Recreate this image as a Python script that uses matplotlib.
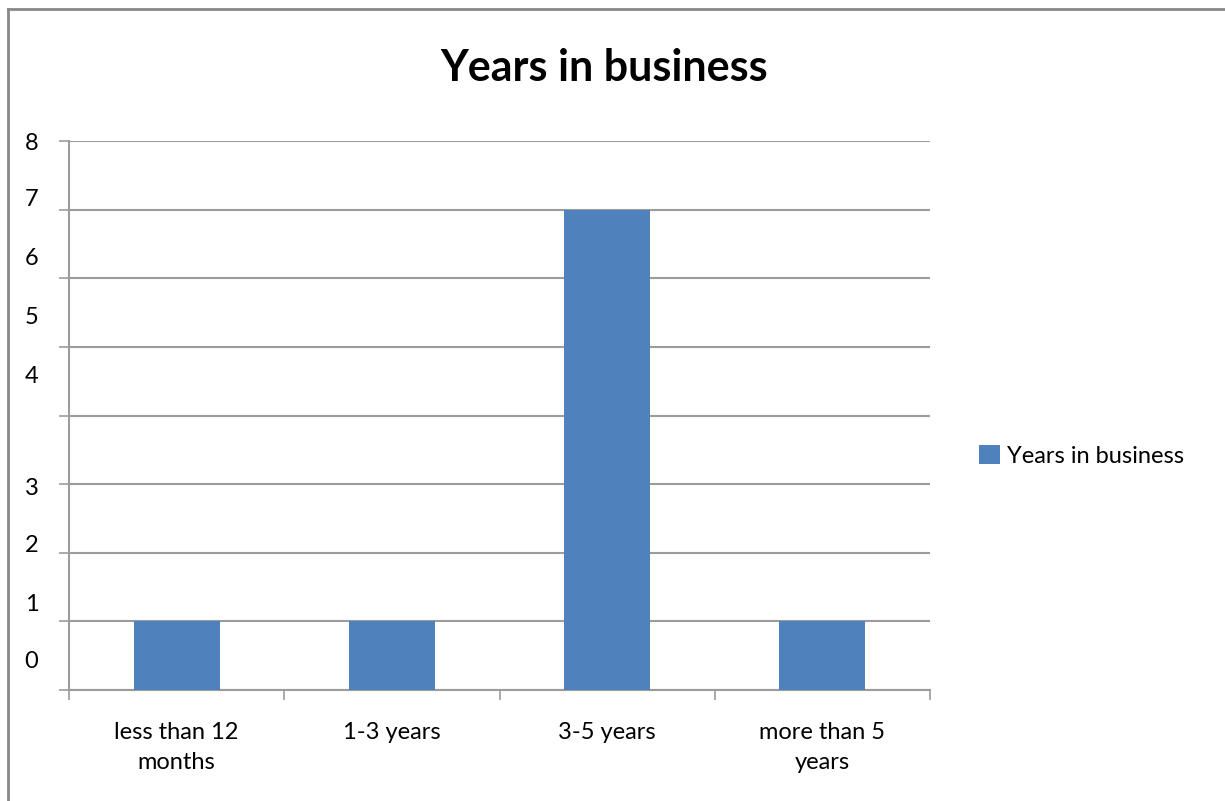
import matplotlib.pyplot as plt
from matplotlib.lines import Line2D

categorias = ["less than 12\nmonths", "1-3 years", "3-5 years", "more than 5\nyears"]
valores = [1, 1, 7, 1]
serie = "Years in business"
ticks_y = [0, 1, 2, 3, 4, 5, 6, 7, 8]
# las etiquetas del eje y quedan desplazadas respecto a las lineas
pos_etiquetas_y = [0.45, 1.28, 2.14, 2.97, 4.6, 5.46, 6.31, 7.18, 8.0]

azul = "#4F81BD"
gris = "#9C9C9C"

plt.rcParams["font.family"] = ["Lato", "DejaVu Sans"]

fig = plt.figure(figsize=(12.25, 8.01), dpi=100)
ax = fig.add_axes([69 / 1225, 111 / 801, 861 / 1225, 549 / 801])

x = range(len(valores))
ax.bar(x, valores, width=0.4, color=azul, label=serie, zorder=3)

ax.set_xlim(-0.5, len(valores) - 0.5)
ax.set_ylim(0, 8)

# lineas de cuadricula en los enteros, sin etiqueta
ax.set_yticks(ticks_y)
ax.set_yticklabels([])
ax.yaxis.grid(True, color=gris, linewidth=1.5, zorder=0)
ax.tick_params(axis="y", which="major", length=7, width=1.2, color=gris)

# etiquetas del eje y en sus posiciones propias
ax.yaxis.remove_overlapping_locs = False
ax.set_yticks(pos_etiquetas_y, [str(t) for t in ticks_y], minor=True)
ax.tick_params(axis="y", which="minor", length=0, pad=22, labelsize=17)

# marcas del eje x en los limites entre categorias
ax.set_xticks([i - 0.5 for i in range(len(valores) + 1)])
ax.set_xticklabels([])
ax.tick_params(axis="x", which="major", length=7, width=1.2, color=gris)
ax.set_xticks(list(x), categorias, minor=True)
ax.tick_params(axis="x", which="minor", length=0, pad=23, labelsize=17)
for etiqueta in ax.get_xticklabels(minor=True):
    etiqueta.set_linespacing(1.55)

for lado in ["top", "right"]:
    ax.spines[lado].set_visible(False)
for lado in ["left", "bottom"]:
    ax.spines[lado].set_color(gris)
    ax.spines[lado].set_linewidth(1.5)

fig.text(604 / 1225, 1 - 68 / 801, "Years in business", ha="center", va="center",
         fontsize=31, fontweight="bold")

fig.legend(loc="center left", bbox_to_anchor=(970 / 1225, 1 - 456 / 801),
           frameon=False, fontsize=17, handlelength=0.85, handleheight=0.85,
           handletextpad=0.3, borderaxespad=0)

# marco alrededor del grafico
fig.add_artist(Line2D([8 / 1225, 1], [1 - 9 / 801, 1 - 9 / 801], color="#888888", linewidth=2))
fig.add_artist(Line2D([8 / 1225, 8 / 1225], [0, 1 - 9 / 801], color="#888888", linewidth=2))

plt.savefig("out.png", dpi=100)
